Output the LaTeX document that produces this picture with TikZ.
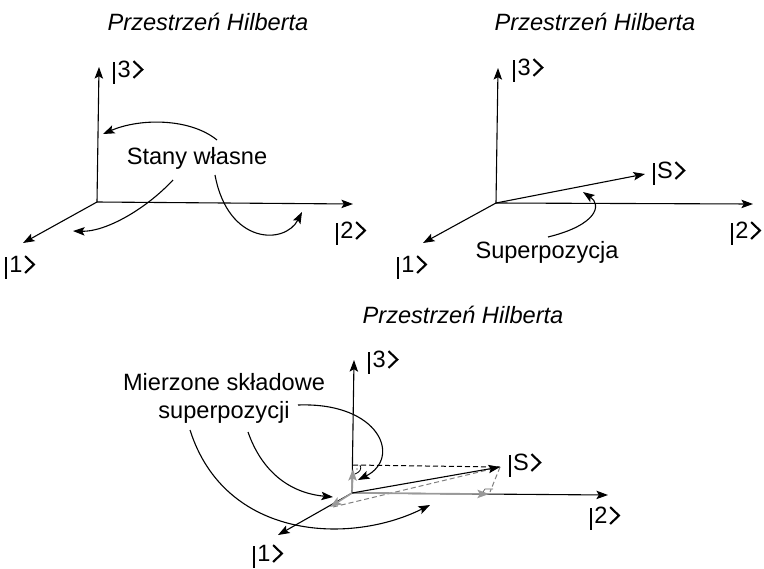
\documentclass[tikz,border=0pt]{standalone}
\usepackage{fontspec}
\setmainfont{Liberation Sans}
\usetikzlibrary{arrows.meta}
\newcommand\mychev{\tikz[baseline=0pt,x=1pt,y=1pt,scale=1]\draw[line width=1.05pt,line join=miter,line cap=butt] (0,8.4) -- (4.4,4.2) -- (0,0);}
\newcommand\myket[1]{\rule[-3pt]{0.95pt}{11.2pt}\kern1.2pt#1\kern0.8pt\mychev}
\begin{document}
\begin{tikzpicture}[x=0.5pt,y=-0.5pt,
  font=\fontsize{11.8}{14}\selectfont,
  ar/.style={line width=0.55pt,-{Stealth[length=5.8pt,width=4.2pt,inset=1.2pt]}},
  gar/.style={line width=0.8pt,draw=gray!80,-{Stealth[length=5.8pt,width=4.2pt,inset=1.2pt]}},
  lbl/.style={inner sep=0pt},
  ttl/.style={inner sep=0pt,font=\fontsize{11.8}{14}\selectfont\itshape},
  gdash/.style={line width=0.5pt,draw=gray,dash pattern=on 2.5pt off 1.5pt},
  bdash/.style={line width=0.5pt,dash pattern=on 2.5pt off 1.5pt}]
\useasboundingbox (0,0) rectangle (764,568);
% ---------- panel 1 ----------
\node[ttl] (t1) at (208,22) {Przestrzeń Hilberta};
\coordinate (O1) at (97,202);
\coordinate (a13) at (99,67);
\coordinate (a12) at (353,204);
\coordinate (a11) at (23,243);
\draw[ar] (O1) -- (a13);
\draw[ar] (O1) -- (a12);
\draw[ar] (O1) -- (a11);
\node[lbl,anchor=west] (k13) at (113,72) {\myket{3}};
\node[lbl] (k12) at (351,233) {\myket{2}};
\node[lbl] (k11) at (20,267) {\myket{1}};
\node[lbl] (sw) at (197,158) {Stany własne};
\coordinate (c1s) at (217,140);
\coordinate (c1e) at (103,134);
\coordinate (c2s) at (173,180);
\coordinate (c2e) at (73,231);
\coordinate (c3s) at (215,175);
\coordinate (c3e) at (302,212);
\draw[ar] (c1s) .. controls (190,118) and (140,118) .. (c1e);
\draw[ar] (c2s) .. controls (145,210) and (105,232) .. (c2e);
\draw[ar] (c3s) .. controls (228,245) and (285,245) .. (c3e);
% ---------- panel 2 ----------
\node[ttl] (t2) at (595,22) {Przestrzeń Hilberta};
\coordinate (O2) at (496,203);
\coordinate (a23) at (498,68);
\coordinate (a22) at (753,204);
\coordinate (a21) at (423,243);
\coordinate (S2) at (645,174);
\draw[ar] (O2) -- (a23);
\draw[ar] (O2) -- (a22);
\draw[ar] (O2) -- (a21);
\draw[ar] (O2) -- (S2);
\node[lbl,anchor=west] (k23) at (513,70) {\myket{3}};
\node[lbl] (k22) at (746,233) {\myket{2}};
\node[lbl] (k21) at (412,267) {\myket{1}};
\node[lbl] (kS2) at (669,173) {\myket{S}};
\node[lbl] (sp) at (547,252) {Superpozycja};
\coordinate (c4s) at (548,237);
\coordinate (c4e) at (583,192);
\draw[ar] (c4s) .. controls (597,225) and (602,205) .. (c4e);
% ---------- panel 3 ----------
\node[ttl] (t3) at (463,315) {Przestrzeń Hilberta};
\coordinate (O3) at (352,493);
\coordinate (a33) at (354,360);
\coordinate (a32) at (608,495);
\coordinate (a31) at (278,535);
\coordinate (S3) at (500,467);
\coordinate (p3) at (353,465);
\coordinate (p2) at (490,492);
\coordinate (p1) at (333,507);
\draw[ar] (O3) -- (a33);
\draw[ar] (O3) -- (a32);
\draw[ar] (O3) -- (a31);
\draw[bdash] (p3) -- (S3);
\draw[gdash] (S3) -- (p2);
\draw[gdash] (p1) -- (S3);
\draw[gar] (O3) -- (353,469);
\draw[gar] (O3) -- (489,494);
\draw[gar] (O3) -- (330,507);
\draw[ar] (O3) -- (S3);
% right-angle marks
\draw[line width=0.4pt] (360,465) .. controls (362,469) and (360,472) .. (355,474);
\fill (357,469) circle (0.7);
\draw[line width=0.4pt,draw=gray!80!black] (483,492) -- (485,489) -- (493,489);
\node[lbl,anchor=west] (k33) at (368,362) {\myket{3}};
\node[lbl] (k32) at (605,518) {\myket{2}};
\node[lbl] (k31) at (268,556) {\myket{1}};
\node[lbl] (kS3) at (525,465) {\myket{S}};
\node[lbl,align=center] (ms) at (224,398) {Mierzone składowe\\superpozycji};
\coordinate (c5s) at (298,405);
\coordinate (c5e) at (358,480);
\coordinate (c6s) at (248,432);
\coordinate (c6e) at (333,497);
\coordinate (c7s) at (190,430);
\coordinate (c7e) at (430,505);
\draw[ar] (c5s) .. controls (380,402) and (402,458) .. (c5e);
\draw[ar] (c6s) .. controls (262,472) and (290,493) .. (c6e);
\draw[ar] (c7s) .. controls (225,540) and (350,545) .. (c7e);
\end{tikzpicture}
\end{document}
